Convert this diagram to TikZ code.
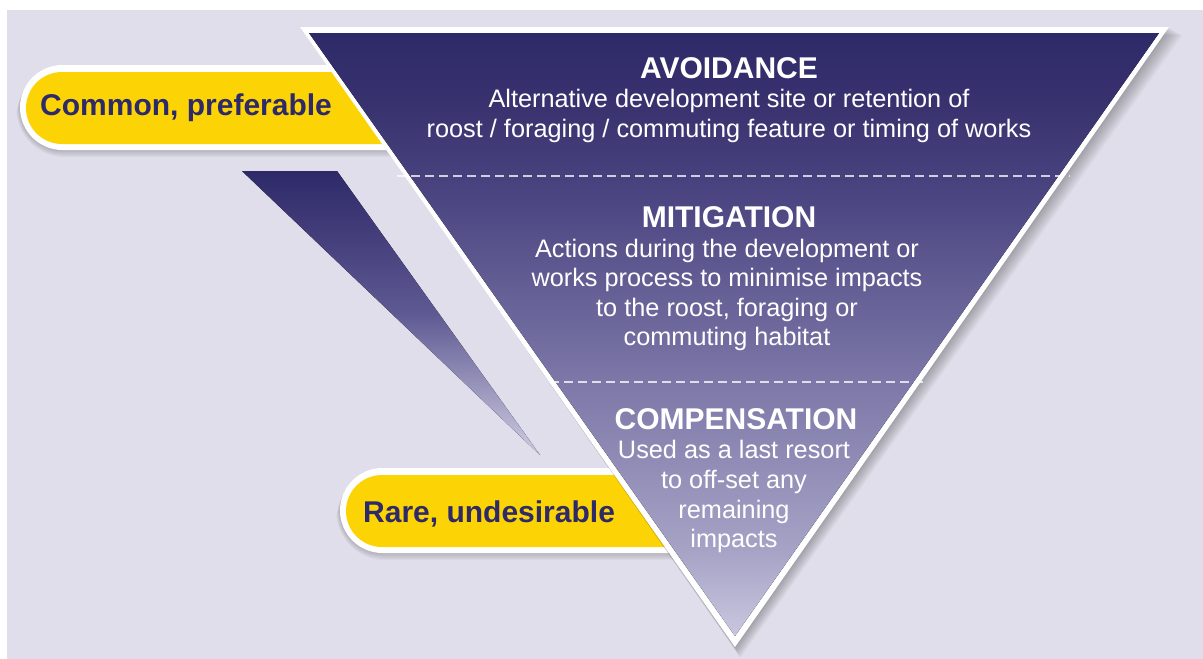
\documentclass[tikz,border=0pt]{standalone}
\usepackage{fontspec}
\setmainfont{Liberation Sans}
\definecolor{bg}{HTML}{DFDEEA}
\definecolor{navy}{HTML}{2E2968}
\definecolor{yel}{HTML}{FCD405}
\definecolor{tA}{HTML}{38336F}
\definecolor{tB}{HTML}{4C4782}
\definecolor{tC}{HTML}{7D78A8}
\definecolor{tD}{HTML}{A6A3C6}
\definecolor{tE}{HTML}{C9C7DF}
\definecolor{wM}{HTML}{5E5992}
\definecolor{wE}{HTML}{CFCDE3}
\pgfdeclareverticalshading{trishade}{100bp}{color(0bp)=(tE); color(25bp)=(tE); color(32bp)=(tD); color(46bp)=(tC); color(61bp)=(tB); color(69bp)=(tA); color(75bp)=(navy); color(100bp)=(navy)}
\pgfdeclareverticalshading{wedgeshade}{100bp}{color(0bp)=(wE); color(25bp)=(wE); color(50bp)=(wM); color(75bp)=(navy); color(100bp)=(navy)}
\begin{document}
\begin{tikzpicture}[x=1pt,y=-1pt,
  title/.style={font=\bfseries\fontsize{30}{36}\selectfont, text=white, anchor=base, inner sep=0pt},
  body/.style={font=\fontsize{25.3}{30}\selectfont, text=white, anchor=base, inner sep=0pt},
  pilltext/.style={font=\bfseries\fontsize{30}{36}\selectfont, text=navy, anchor=base west, inner sep=0pt},
  divider/.style={white, opacity=0.75, line width=1.3pt, dash pattern=on 9pt off 5pt},
  softshadow/.style={black, opacity=0.03}]
\useasboundingbox (0,0) rectangle (1203,659);
\fill[white] (0,0) rectangle (1203,659);
\fill[bg] (7,10) rectangle (1203,659);

% decorative wedge
\fill[shading=wedgeshade] (242,171) -- (337,171) -- (540,455) -- cycle;

% pill shadows
\foreach \i in {1,...,6}{
  \fill[softshadow, rounded corners=42.5pt+\i pt] (20-\i*0.6,65+\i*0.6) rectangle (450,150+\i*1.2);
  \fill[softshadow, rounded corners=42.5pt+\i pt] (340-\i*0.6,468+\i*0.6) rectangle (730,553+\i*1.2);
}
% top pill
\fill[white, rounded corners=42.5pt] (20,65) rectangle (450,150);
\fill[yel, rounded corners=36pt] (26,72) rectangle (450,144);
% bottom pill
\fill[white, rounded corners=42.5pt] (340,468) rectangle (730,553);
\fill[yel, rounded corners=36pt] (346,475) rectangle (730,547);

% triangle shadow
\foreach \i in {1,...,9}{
  \fill[softshadow] (300+\i*0.8,27+\i*0.8) -- (1169+\i*1.5,27+\i*0.9) -- (735+\i*0.6,647+\i*1.2) -- cycle;
}
% triangle
\fill[white] (300,27) -- (1169,27) -- (735,647) -- cycle;
\fill[shading=trishade] (309,33) -- (1159,33) -- (735,636) -- cycle;

% dividers
\coordinate (d1a) at (397,176);
\coordinate (d1b) at (1070,176);
\coordinate (d2a) at (550,382);
\coordinate (d2b) at (927,382);
\draw[divider] (d1a) -- (d1b);
\draw[divider] (d2a) -- (d2b);

% texts
\node[title] (avt) at (729,78) {AVOIDANCE};
\node[body] (av1) at (729,107) {Alternative development site or retention of};
\node[body] (av2) at (729,137) {roost / foraging / commuting feature or timing of works};

\node[title] (mit) at (729,227) {MITIGATION};
\node[body] (mi1) at (727,257) {Actions during the development or};
\node[body] (mi2) at (727,286.5) {works process to minimise impacts};
\node[body] (mi3) at (727,316) {to the roost, foraging or};
\node[body] (mi4) at (727,345.5) {commuting habitat};

\node[title] (cot) at (736,429) {COMPENSATION};
\node[body] (co1) at (734,458) {Used as a last resort};
\node[body] (co2) at (734,488) {to off-set any};
\node[body] (co3) at (734,518) {remaining};
\node[body] (co4) at (734,547) {impacts};

\node[pilltext] (p1) at (40,115) {Common, preferable};
\node[pilltext] (p2) at (363,522) {Rare, undesirable};
\end{tikzpicture}
\end{document}
